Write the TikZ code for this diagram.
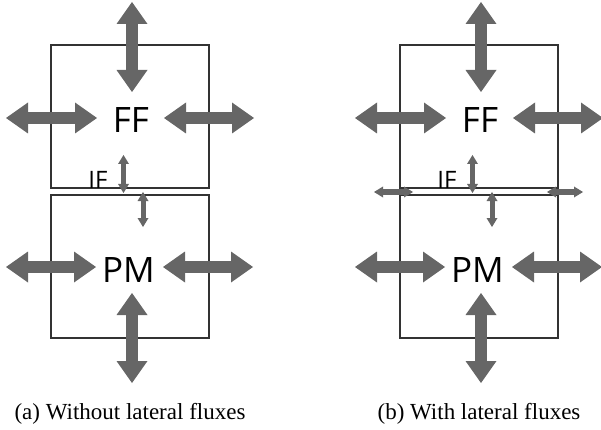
\documentclass[tikz,border=0pt]{standalone}
\usepackage{fontspec}
\setmainfont{Liberation Serif}
\newfontfamily\layerfont{Open Sans}
\usetikzlibrary{arrows.meta}

\tikzset{
  layerbox/.style={draw=black!80, line width=1.3pt, inner sep=0pt,
    minimum width=158pt, minimum height=143pt},
  bigflux/.style={draw=black!60, line width=12pt,
    {Triangle[length=22pt, width=31pt, line width=0pt]}-{Triangle[length=22pt, width=31pt, line width=0pt]}},
  smallflux/.style={draw=black!60, line width=5pt,
    {Triangle[length=9pt, width=11pt, line width=0pt]}-{Triangle[length=9pt, width=11pt, line width=0pt]}},
  layertxt/.style={font=\layerfont\fontsize{35}{35}\selectfont, inner sep=0pt},
  iftxt/.style={font=\layerfont\fontsize{24}{24}\selectfont, inner sep=0pt},
  captxt/.style={font=\fontsize{23}{23}\selectfont, inner sep=0pt, anchor=base},
}

\begin{document}
\begin{tikzpicture}[x=1pt, y=-1pt]

  \useasboundingbox (0,0) rectangle (601,430);

  % ================================================================
  % (a) Without lateral fluxes
  % ================================================================

  \node[layerbox] (ffa) at (130,116.5) {};
  \node[layerbox] (pma) at (130,266.5) {};

  \node[layertxt] (ffa-t) at (131,120.5) {FF};
  \node[layertxt] (pma-t) at (128.5,270) {PM};
  \node[iftxt] (ifa-t) at (98,179.5) {IF};

  % --- flux end points ---
  \coordinate (ffa-n1) at (132,2);     \coordinate (ffa-n2) at (132,92);
  \coordinate (ffa-w1) at (6,118);     \coordinate (ffa-w2) at (97,118);
  \coordinate (ffa-e1) at (164,118);   \coordinate (ffa-e2) at (254,118);
  \coordinate (pma-w1) at (6,267);     \coordinate (pma-w2) at (96,267);
  \coordinate (pma-e1) at (163,267);   \coordinate (pma-e2) at (253,267);
  \coordinate (pma-s1) at (132,293);   \coordinate (pma-s2) at (132,383);
  \coordinate (ifa-u1) at (123.5,155); \coordinate (ifa-u2) at (123.5,193);
  \coordinate (ifa-d1) at (143,192);   \coordinate (ifa-d2) at (143,227);

  % --- fluxes ---
  \draw[bigflux] (ffa-n1) -- (ffa-n2);
  \draw[bigflux] (ffa-w1) -- (ffa-w2);
  \draw[bigflux] (ffa-e1) -- (ffa-e2);
  \draw[bigflux] (pma-w1) -- (pma-w2);
  \draw[bigflux] (pma-e1) -- (pma-e2);
  \draw[bigflux] (pma-s1) -- (pma-s2);
  \draw[smallflux] (ifa-u1) -- (ifa-u2);
  \draw[smallflux] (ifa-d1) -- (ifa-d2);

  \node[captxt] (capa) at (130,419) {(a) Without lateral fluxes};

  % ================================================================
  % (b) With lateral fluxes
  % ================================================================

  \node[layerbox] (ffb) at (479,116.5) {};
  \node[layerbox] (pmb) at (479,266.5) {};
  \draw[black!80, line width=1.3pt] (ffb.south west) -- (pmb.north west);
  \draw[black!80, line width=1.3pt] (ffb.south east) -- (pmb.north east);

  \node[layertxt] (ffb-t) at (480,120.5) {FF};
  \node[layertxt] (pmb-t) at (477.5,270) {PM};
  \node[iftxt] (ifb-t) at (447,179.5) {IF};

  % --- flux end points ---
  \coordinate (ffb-n1) at (481,2);     \coordinate (ffb-n2) at (481,92);
  \coordinate (ffb-w1) at (355,118);   \coordinate (ffb-w2) at (446,118);
  \coordinate (ffb-e1) at (513,118);   \coordinate (ffb-e2) at (603,118);
  \coordinate (pmb-w1) at (355,267);   \coordinate (pmb-w2) at (445,267);
  \coordinate (pmb-e1) at (512,267);   \coordinate (pmb-e2) at (602,267);
  \coordinate (pmb-s1) at (481,293);   \coordinate (pmb-s2) at (481,383);
  \coordinate (ifb-u1) at (472.5,155); \coordinate (ifb-u2) at (472.5,193);
  \coordinate (ifb-d1) at (492,192);   \coordinate (ifb-d2) at (492,227);
  \coordinate (ifb-w1) at (374,192);   \coordinate (ifb-w2) at (413,192);
  \coordinate (ifb-e1) at (547,192);   \coordinate (ifb-e2) at (583,192);

  % --- fluxes ---
  \draw[bigflux] (ffb-n1) -- (ffb-n2);
  \draw[bigflux] (ffb-w1) -- (ffb-w2);
  \draw[bigflux] (ffb-e1) -- (ffb-e2);
  \draw[bigflux] (pmb-w1) -- (pmb-w2);
  \draw[bigflux] (pmb-e1) -- (pmb-e2);
  \draw[bigflux] (pmb-s1) -- (pmb-s2);
  \draw[smallflux] (ifb-u1) -- (ifb-u2);
  \draw[smallflux] (ifb-d1) -- (ifb-d2);
  \draw[smallflux] (ifb-w1) -- (ifb-w2);
  \draw[smallflux] (ifb-e1) -- (ifb-e2);

  \node[captxt] (capb) at (479,419) {(b) With lateral fluxes};

\end{tikzpicture}
\end{document}
